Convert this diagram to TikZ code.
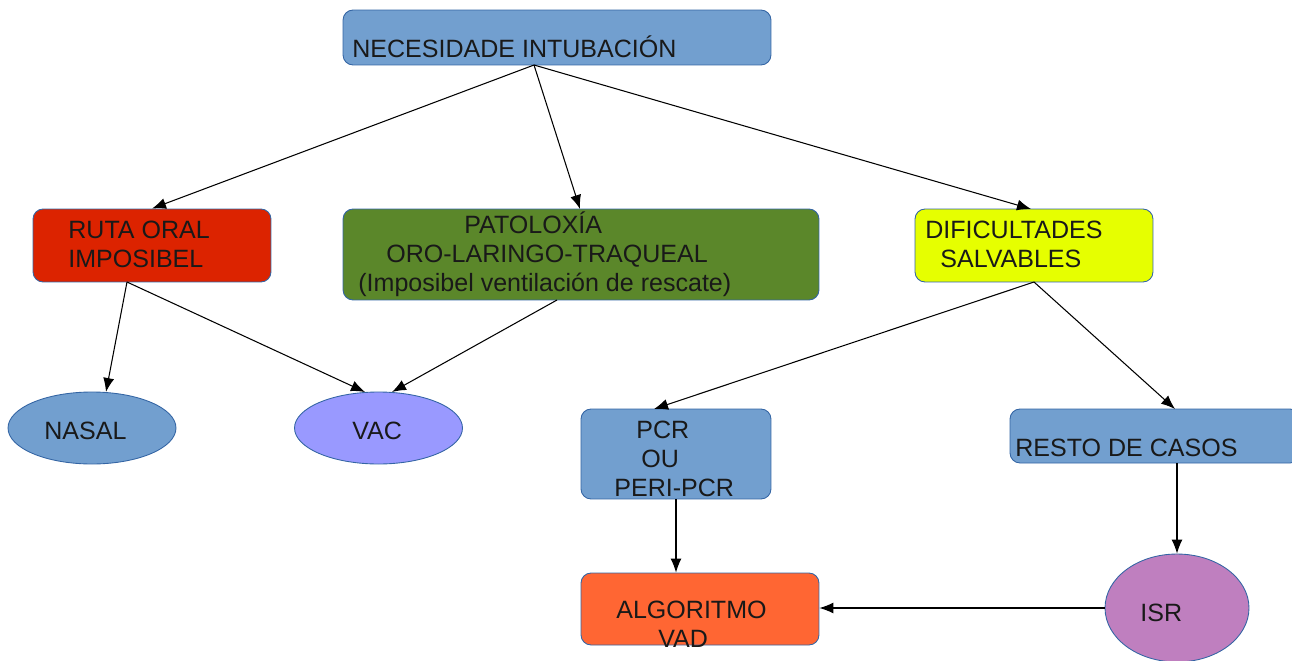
\documentclass[tikz,border=0pt]{standalone}
\usepackage{fontspec}
\setmainfont{Liberation Sans}
\usetikzlibrary{shapes.geometric,arrows.meta,positioning}

\definecolor{boxblue}{HTML}{729FCF}
\definecolor{boxred}{HTML}{DC2300}
\definecolor{boxgreen}{HTML}{5B872A}
\definecolor{boxyellow}{HTML}{E6FF00}
\definecolor{boxorange}{HTML}{FF6633}
\definecolor{boxlilac}{HTML}{9999FF}
\definecolor{boxpurple}{HTML}{BF7FBF}
\definecolor{edgeblue}{HTML}{3465A4}

\begin{document}
\begin{tikzpicture}[
    x=0.02cm, y=-0.02cm,
    box/.style={
        draw = edgeblue,
        line width = 0.5pt,
        rounded corners = 0.2cm,
        rectangle,
        inner sep = 0pt
    },
    oval/.style={
        draw = edgeblue,
        line width = 0.5pt,
        ellipse,
        inner sep = 0pt
    },
    txt/.style={
        anchor = base west,
        inner sep = 0pt,
        align = left,
        text = black!90,
        font = \fontsize{14.25}{16.5}\selectfont
    },
    link/.style={
        ->,
        line width = 0.6pt
    },
    >={Latex[length=2.8mm,width=2.2mm]}
    ]

\useasboundingbox (0,0) rectangle (1292,660);

% boxes
\node[box, fill=boxblue, minimum width=8.56cm, minimum height=1.1cm] (intub) at (557,37.5) {};
\node[box, fill=boxred, minimum width=4.76cm, minimum height=1.46cm] (ruta) at (152,245.5) {};
\node[box, fill=boxgreen, minimum width=9.52cm, minimum height=1.82cm] (patol) at (581,254.5) {};
\node[box, fill=boxyellow, minimum width=4.76cm, minimum height=1.46cm] (dific) at (1034,245.5) {};
\node[oval, fill=boxblue, minimum width=3.36cm, minimum height=1.44cm] (nasal) at (92,428) {};
\node[oval, fill=boxlilac, minimum width=3.36cm, minimum height=1.44cm] (vac) at (378.5,428) {};
\node[box, fill=boxblue, minimum width=3.8cm, minimum height=1.8cm] (pcr) at (676,454) {};
\node[box, fill=boxblue, minimum width=5.8cm, minimum height=1.08cm] (resto) at (1155,436) {};
\node[box, fill=boxorange, minimum width=4.76cm, minimum height=1.44cm] (algor) at (700,609) {};
\node[oval, fill=boxpurple, minimum width=2.88cm, minimum height=2.16cm] (isr) at (1177,608) {};

% texts (placed at the baseline of the last line)
\node[txt] (intub-t) at (352,57) {NECESIDADE INTUBACIÓN};
\node[txt] (ruta-t) at (68,267) {RUTA ORAL\\IMPOSIBEL};
\node[txt] (patol-t) at (358,291) {\hspace*{2.12cm}PATOLOXÍA\\\hspace*{0.56cm}ORO-LARINGO-TRAQUEAL\\(Imposibel ventilación de rescate)};
\node[txt] (dific-t) at (925,267) {DIFICULTADES\\\hspace*{0.3cm}SALVABLES};
\node[txt] (nasal-t) at (44,439) {NASAL};
\node[txt] (vac-t) at (352,439) {VAC};
\node[txt] (pcr-t) at (614,496) {\hspace*{0.44cm}PCR\\\hspace*{0.54cm}OU\\PERI-PCR};
\node[txt] (resto-t) at (1015,456) {RESTO DE CASOS};
\node[txt] (algor-t) at (616,647) {ALGORITMO\\\hspace*{0.84cm}VAD};
\node[txt] (isr-t) at (1140,621) {ISR};

% connectors
\coordinate (intub-out) at (534,65);
\coordinate (ruta-out) at (127,282);
\coordinate (dific-out) at (1034,282);
\draw[link] (intub-out) -- (ruta.north);
\draw[link] (intub-out) -- (580,209) coordinate (patol-in);
\draw[link] (intub-out) -- (1031,209) coordinate (dific-in);
\draw[link] (ruta-out) -- (106,392) coordinate (nasal-in);
\draw[link] (ruta-out) -- (365,392) coordinate (vac-in1);
\draw[link] (557,300) coordinate (patol-out) -- (392,392) coordinate (vac-in2);
\draw[link] (dific-out) -- (654,409) coordinate (pcr-in);
\draw[link] (dific-out) -- (1175,409) coordinate (resto-in);
\draw[link] (pcr.south) -- (algor.north -| pcr.south);
\draw[link] (resto.south -| isr.north) -- (isr.north);
\draw[link] (isr.west) -- (isr.west -| algor.east);
\end{tikzpicture}
\end{document}
